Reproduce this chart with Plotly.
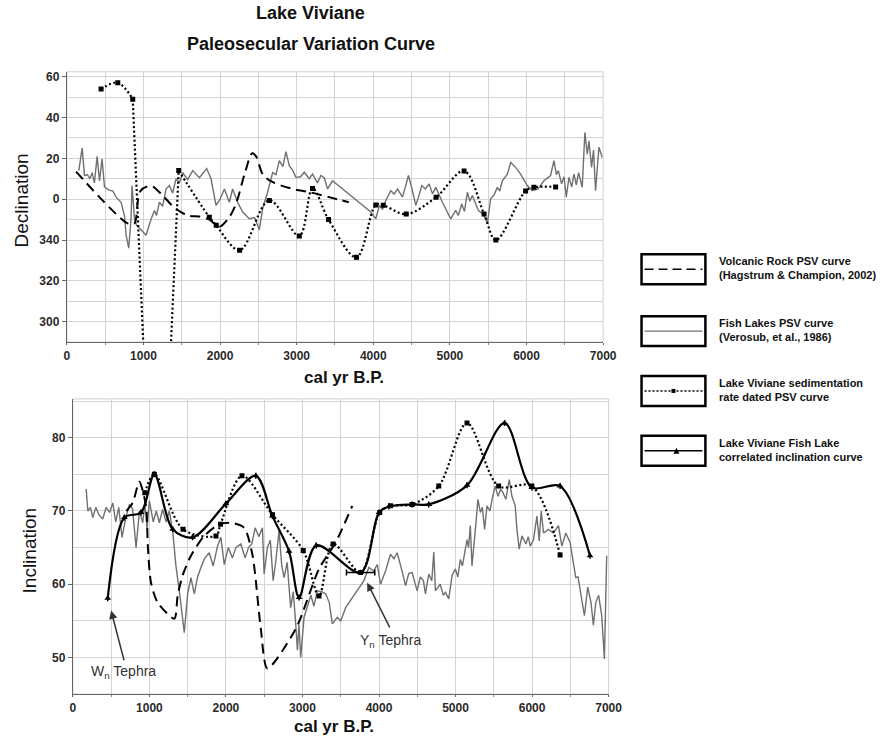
import plotly.graph_objects as go

W, H = 892, 738
# usable drawing width of the page (the browser keeps a scrollbar gutter on the right)
W_VIEW = 877

# ---------------- Declination (upper panel) ----------------
# Declination is plotted on a signed scale (340 -> -20, 300 -> -60)
volc_dec_yr = [120, 800, 880, 960, 1100, 1250, 1400, 1580, 1730, 1860, 1990, 2120, 2210, 2320, 2420,
               2470, 2560, 2690, 2950, 3160, 3425, 3680]
volc_dec = [13.5, -12, -12, 4, 6.5, 1.8, -4, -8, -8.5, -10, -13.5, -8.8, -2, 12.3, 22.5,
            21, 12, 8.3, 5, 3.5, 1, -1.5]

fish_dec_yr = [156, 200, 230, 270, 300, 330, 360, 395, 426, 460, 491, 545, 600, 643, 708, 752, 774, 808,
               838, 851, 883, 913, 969, 1034, 1098, 1143, 1170, 1208, 1250, 1295, 1338, 1380, 1425, 1470,
               1512, 1577, 1643, 1730, 1825, 1882, 1947, 2000, 2056, 2121, 2164, 2229, 2295, 2382, 2450,
               2512, 2555, 2620, 2686, 2730, 2773, 2820, 2860, 2903, 2950, 2990, 3050, 3099, 3164, 3207,
               3272, 3316, 3360, 3403, 3468, 3968, 4033, 4080, 4120, 4163, 4229, 4270, 4316, 4381, 4424,
               4459, 4511, 4555, 4590, 4633, 4680, 4729, 4772, 4816, 4902, 5010, 5075, 5110, 5154, 5190,
               5228, 5260, 5293, 5330, 5371, 5420, 5467, 5489, 5532, 5575, 5619, 5650, 5684, 5750, 5793,
               5858, 5923, 6010, 6075, 6150, 6228, 6314, 6358, 6390, 6415, 6458, 6490, 6519, 6554, 6590,
               6619, 6650, 6680, 6727, 6762, 6793, 6815, 6849, 6875, 6901, 6945, 6988]
fish_dec = [14, 25, 11.7, 12, 10, 13, 8, 21, 9, 19.7, 6, 4.6, 4, 1, -1.5, -8, -17.7, -24,
            -9.5, 6.7, -9.6, -13, -15, -17.7, -10, -5.5, -8, -1.5, -3.5, 5, 6.7, 3, 10, 8,
            13, 9.6, 14, 10.5, 15, 10, -3, 0, 5, -1.5, 5, -1.5, -6.3, -9.6, -9,
            -15, -4.7, 3.4, 13, 12, 18.9, 16, 23.3, 16.4, 14, 10.7, 11, 13.2, 10, 12.3,
            8, 11.6, 10.5, 5, 9, -6.3, -9.6, -3, -5, -0.6, 4.2, 2.5, 5, 1, 6.7,
            11.6, 4.2, -3, 1, 6.7, 5, 7.5, 2.6, 5.8, -1.5, -9.6, -5.5, -8, -2.3, -6,
            3.4, -1, 1.8, -2, -5.5, -7, -9.6, -12, 0.2, 2, 5.8, 4, 9, 12.3, 18,
            15.6, 12.3, 6.7, 4.2, 5, 9, 11.6, 18.9, 12, 14, 7.5, 11, 1, 10.7, 6,
            12.3, 7, 13, 5.8, 32.7, 22, 28.6, 15.6, 24, 4.2, 25.4, 20.5]

# sedimentation-rate dated curve; the value near 1175 yr swings far below the axis range
lv_dec_yr = [447, 665, 860, 1175, 1460, 1860, 1950, 2255, 2643, 3034, 3207, 3416, 3781, 4033,
             4130, 4430, 4820, 5185, 5446, 5600, 5988, 6097, 6380]
lv_dec = [54, 57, 49, -225, 14, -8.8, -12.8, -25, -0.6, -18, 5.2, -10, -28.5, -2.8,
          -3, -7.3, 1, 13.8, -7.2, -20, 4, 5.8, 6]
LV_SWING = 3  # index of the off-scale swing, drawn with straight segments

dec_tickvals = [-60, -40, -20, 0, 20, 40, 60]
dec_ticktext = ["300", "320", "340", "0", "20", "40", "60"]

# ---------------- Inclination (lower panel) ----------------
volc_inc_yr = [700, 782, 869, 956, 980, 1021, 1108, 1326, 1369, 1434, 1543, 1717, 1913, 2064, 2239,
               2347, 2455, 2542, 2912, 3216, 3433, 3651]
volc_inc = [70, 71.1, 74, 70.7, 65.2, 60.2, 57.5, 55.3, 58.4, 61.2, 63.9, 66.6, 68.2, 68.4, 67.7,
            64, 54, 48.5, 53.9, 62.1, 65.7, 70.7]

fish_inc_yr = [174, 196, 230, 261, 300, 340, 391, 435, 480, 522, 560, 600, 643, 690, 739, 780, 826, 870,
               913, 940, 970, 1000, 1050, 1090, 1130, 1173, 1220, 1260, 1304, 1347, 1391, 1456, 1500,
               1543, 1587, 1630, 1673, 1720, 1782, 1834, 1890, 1934, 1978, 2030, 2086, 2130, 2195, 2251,
               2295, 2338, 2382, 2430, 2477, 2499, 2542, 2580, 2617, 2650, 2694, 2730, 2760, 2800, 2846,
               2880, 2912, 2934, 2955, 2977, 3021, 3064, 3110, 3150, 3194, 3250, 3303, 3350, 3390, 3455,
               3500, 3564, 3803, 3868, 3930, 3977, 4020, 4085, 4150, 4195, 4237, 4302, 4346, 4390, 4433,
               4498, 4540, 4580, 4607, 4650, 4690, 4716, 4737, 4800, 4840, 4868, 4911, 4955, 4998, 5030,
               5063, 5090, 5119, 5150, 5170, 5193, 5215, 5240, 5267, 5293, 5324, 5350, 5380, 5411, 5450,
               5485, 5519, 5554, 5590, 5620, 5658, 5702, 5737, 5780, 5802, 5832, 5867, 5920, 5950, 5976,
               6019, 6063, 6093, 6119, 6150, 6215, 6280, 6345, 6389, 6441, 6497, 6530, 6571, 6600, 6640,
               6684, 6727, 6770, 6801, 6832, 6870, 6910, 6945, 6975]
fish_inc = [73, 70, 70.5, 69.1, 70.5, 69.5, 68.9, 70.5, 69.8, 71.1, 68.5, 70.5, 66.4, 69, 70.9, 70.3, 65, 70,
            68.4, 71, 67.5, 71.4, 68.5, 70, 68.4, 70.2, 68.5, 70, 67.3, 62.5, 59.1, 53.4, 58.7,
            60.9, 58.7, 61, 62.3, 63.5, 64.3, 62.5, 65.2, 66.4, 62.7, 65, 63.6, 65, 65.5, 63.6,
            65, 65.5, 67.7, 66.5, 67.7, 61.4, 65, 66, 60.5, 63, 67.3, 62.5, 60.9, 63, 56.8,
            59, 54.6, 51, 54.5, 50, 55.5, 56.8, 58.5, 57, 59.1, 59, 58.7, 57.5, 54.6, 55.5,
            55, 56.8, 60.5, 62.3, 61.8, 62.7, 60, 61.8, 64.1, 63.5, 64.3, 61.8, 59.8, 61.5, 61.6,
            59.1, 61, 60.5, 58.7, 61.4, 60.5, 64.4, 59.1, 60, 58.5, 58.9, 58, 61.2, 62.1, 61,
            63.4, 62.5, 64.3, 66.1, 65, 68, 62.5, 66, 68.4, 71.6, 69.8, 70.5, 67.5, 70.7, 70,
            72, 73.4, 72, 73, 72.5, 71.6, 74.3, 72, 70.7, 67.5, 64.8, 66.6, 65.5, 66.5, 65.2,
            66.1, 69.3, 65.9, 70, 67, 67.5, 67, 68, 65.2, 67, 65.7, 63.5, 60.9, 61, 58.4,
            55.7, 59.6, 57.5, 54.4, 57.5, 58.5, 55.7, 49.8, 63.9]

lv_inc_yr = [940, 1065, 1440, 1870, 1930, 2210, 2608, 3010, 3216, 3400, 3760, 4010, 4150, 4433, 4781,
             5150, 5563, 5997, 6366]
lv_inc = [72.5, 75, 67.5, 66.6, 68.2, 74.8, 69.5, 64.6, 58.4, 65.5, 61.6, 69.8, 70.7, 70.9, 73.4,
          82, 73.4, 73.4, 64]

corr_inc_yr = [456, 674, 891, 1065, 1304, 1565, 2000, 2390, 2608, 2825, 2956, 3180, 3760, 4000, 4130,
               4433, 4650, 5150, 5641, 5997, 6366, 6757]
corr_inc = [58.1, 69.1, 69.8, 75, 67.5, 66.4, 71, 74.8, 69.3, 64.5, 58.2, 65.3, 61.6, 69.8, 70.6,
            70.9, 70.9, 73.5, 82, 73.2, 73.4, 63.9]
# age uncertainty on the Y_n tephra tie point
corr_inc_age_err = [0, 0, 0, 0, 0, 0, 0, 0, 0, 0, 0, 0, 185, 0, 0, 0, 0, 0, 0, 0, 0, 0]

year_ticks = [0, 1000, 2000, 3000, 4000, 5000, 6000, 7000]

legend_labels = [
    "Volcanic Rock PSV curve<br>(Hagstrum &amp; Champion, 2002)",
    "Fish Lakes PSV curve<br>(Verosub, et al., 1986)",
    "Lake Viviane sedimentation<br>rate dated PSV curve",
    "Lake Viviane Fish Lake<br>correlated inclination curve",
]

FONT = "Liberation Sans, Arial, sans-serif"
GRAY = "#707070"
DOT = "2px,2.5px"


def px(x):
    return x / W_VIEW


def py(y):
    return 1 - y / H


fig = go.Figure()

# upper panel traces
fig.add_trace(go.Scatter(x=fish_dec_yr, y=fish_dec, mode="lines",
                         line=dict(color=GRAY, width=1.4), xaxis="x", yaxis="y"))
fig.add_trace(go.Scatter(x=volc_dec_yr, y=volc_dec, mode="lines",
                         line=dict(color="black", width=2, dash="10px,6px", shape="spline", smoothing=0.9),
                         xaxis="x", yaxis="y"))
# dotted curve: smooth arcs on either side, straight plunge through the off-scale swing
k = LV_SWING
fig.add_trace(go.Scatter(x=lv_dec_yr[:k], y=lv_dec[:k], mode="lines+markers",
                         line=dict(color="black", width=2.2, dash=DOT, shape="spline", smoothing=1),
                         marker=dict(symbol="square", size=5, color="black"), xaxis="x", yaxis="y"))
fig.add_trace(go.Scatter(x=lv_dec_yr[k - 1:k + 2], y=lv_dec[k - 1:k + 2], mode="lines",
                         line=dict(color="black", width=2.2, dash=DOT), xaxis="x", yaxis="y"))
fig.add_trace(go.Scatter(x=lv_dec_yr[k + 1:], y=lv_dec[k + 1:], mode="lines+markers",
                         line=dict(color="black", width=2.2, dash=DOT, shape="spline", smoothing=1),
                         marker=dict(symbol="square", size=5, color="black"), xaxis="x", yaxis="y"))

# lower panel traces
fig.add_trace(go.Scatter(x=fish_inc_yr, y=fish_inc, mode="lines",
                         line=dict(color=GRAY, width=1.4), xaxis="x2", yaxis="y2"))
fig.add_trace(go.Scatter(x=volc_inc_yr, y=volc_inc, mode="lines",
                         line=dict(color="black", width=2, dash="10px,6px", shape="spline", smoothing=0.7),
                         xaxis="x2", yaxis="y2"))
fig.add_trace(go.Scatter(x=lv_inc_yr, y=lv_inc, mode="lines+markers",
                         line=dict(color="black", width=2.2, dash=DOT, shape="spline", smoothing=0.9),
                         marker=dict(symbol="square", size=5, color="black"),
                         xaxis="x2", yaxis="y2"))
fig.add_trace(go.Scatter(x=corr_inc_yr, y=corr_inc, mode="lines+markers",
                         line=dict(color="black", width=2.2, shape="spline", smoothing=0.9),
                         marker=dict(symbol="triangle-up", size=6, color="black"),
                         error_x=dict(type="data", array=corr_inc_age_err, visible=True,
                                      color="black", thickness=1.5, width=3),
                         xaxis="x2", yaxis="y2"))

tickfont = dict(family=FONT, size=12, color="#2a2a2a", weight="bold")
axis_common = dict(showline=True, linecolor="#666", linewidth=1.2, ticks="outside",
                   tickcolor="#666", tickfont=tickfont, showgrid=True, gridcolor="#d4d4d4",
                   gridwidth=1, zeroline=False)

fig.update_layout(
    width=W, height=H,
    margin=dict(l=0, r=0, t=0, b=0),
    paper_bgcolor="white", plot_bgcolor="white",
    showlegend=False,
    xaxis=dict(domain=[px(64), px(601.5)], range=[0, 7000], tickvals=year_ticks, anchor="y", ticklen=2,
               minor=dict(dtick=500, showgrid=True, gridcolor="#d4d4d4", ticks="outside",
                          ticklen=2, tickcolor="#888"),
               **axis_common),
    yaxis=dict(domain=[py(341), py(70)], range=[-70, 62.4], tickvals=dec_tickvals, ticktext=dec_ticktext,
               anchor="x", ticklen=4, minor=dict(dtick=10, showgrid=True, gridcolor="#d4d4d4"),
               **axis_common),
    xaxis2=dict(domain=[px(70), px(607)], range=[0, 7000], tickvals=year_ticks, anchor="y2", ticklen=2,
                minor=dict(dtick=500, showgrid=True, gridcolor="#d4d4d4", ticks="outside",
                           ticklen=2, tickcolor="#888"),
                **axis_common),
    yaxis2=dict(domain=[py(694), py(398)], range=[45, 85.3], tickvals=[50, 60, 70, 80], anchor="x2",
                ticklen=4, minor=dict(dtick=5, showgrid=True, gridcolor="#d4d4d4"),
                **axis_common),
)

# light frame on the open sides of each plot area
for xr, yr in (("x", "y"), ("x2", "y2")):
    fig.add_shape(type="rect", xref=f"{xr} domain", yref=f"{yr} domain", x0=0, x1=1, y0=0, y1=1,
                  line=dict(color="#cfcfcf", width=1), layer="below")

annotations = []


def text(x, y, s, size, bold=True, angle=0, xanchor="center", color="#111", xref="paper", yref="paper"):
    annotations.append(dict(x=x, y=y, xref=xref, yref=yref, text=s, showarrow=False, textangle=angle,
                            xanchor=xanchor, yanchor="middle", align="left",
                            font=dict(family=FONT, size=size, color=color,
                                      weight="bold" if bold else "normal")))


text(px(308), py(11), "Lake Viviane", 18)
text(px(309), py(42), "Paleosecular Variation Curve", 18)
text(px(342), py(377), "cal yr B.P.", 17)
text(px(332), py(726), "cal yr B.P.", 17)
text(px(19), py(199), "Declination", 19, bold=False, angle=-90)
text(px(27), py(550), "Inclination", 19, bold=False, angle=-90)

# tephra labels and pointers
text(660, 48.0, "W<sub>n</sub> Tephra", 14, bold=False, color="#333", xref="x2", yref="y2")
text(4150, 52.3, "Y<sub>n</sub> Tephra", 14, bold=False, color="#333", xref="x2", yref="y2")
for (hx, hy, tx, ty) in ((500, 56.4, 674, 49.4), (3846, 60.2, 4150, 53.9)):
    annotations.append(dict(x=hx, y=hy, ax=tx, ay=ty, xref="x2", yref="y2", axref="x2", ayref="y2",
                            text="", showarrow=True, arrowhead=2, arrowsize=1.1, arrowwidth=1.5,
                            arrowcolor="#333", standoff=0, startstandoff=0))

# legend panel
box_tops = [253, 315, 375, 435]
for i, top in enumerate(box_tops):
    cy = top + 15
    fig.add_shape(type="rect", xref="paper", yref="paper", x0=px(640), x1=px(704), y0=py(top + 30), y1=py(top),
                  line=dict(color="black", width=2.5), fillcolor="white")
    if i == 0:
        fig.add_shape(type="line", xref="paper", yref="paper", x0=px(643), x1=px(701), y0=py(cy), y1=py(cy),
                      line=dict(color="black", width=1.6, dash="9px,5px"))
    elif i == 1:
        fig.add_shape(type="line", xref="paper", yref="paper", x0=px(643), x1=px(701), y0=py(cy), y1=py(cy),
                      line=dict(color=GRAY, width=1.2))
    elif i == 2:
        fig.add_shape(type="line", xref="paper", yref="paper", x0=px(643), x1=px(701), y0=py(cy), y1=py(cy),
                      line=dict(color="black", width=1.5, dash="2px,2px"))
        fig.add_shape(type="rect", xref="paper", yref="paper", x0=px(670), x1=px(674), y0=py(cy + 2), y1=py(cy - 2),
                      line=dict(color="black", width=0), fillcolor="black")
    else:
        fig.add_shape(type="line", xref="paper", yref="paper", x0=px(643), x1=px(701), y0=py(cy), y1=py(cy),
                      line=dict(color="black", width=1.6))
        fig.add_shape(type="path", xref="paper", yref="paper",
                      path=f"M {px(672)} {py(cy + 3)} L {px(678)} {py(cy + 3)} L {px(675)} {py(cy - 3)} Z",
                      line=dict(color="black", width=0), fillcolor="black")
    text(px(716), py(cy - 1), legend_labels[i], 11, xanchor="left", color="#111")

fig.update_layout(annotations=annotations)
fig.write_html("out.html")
